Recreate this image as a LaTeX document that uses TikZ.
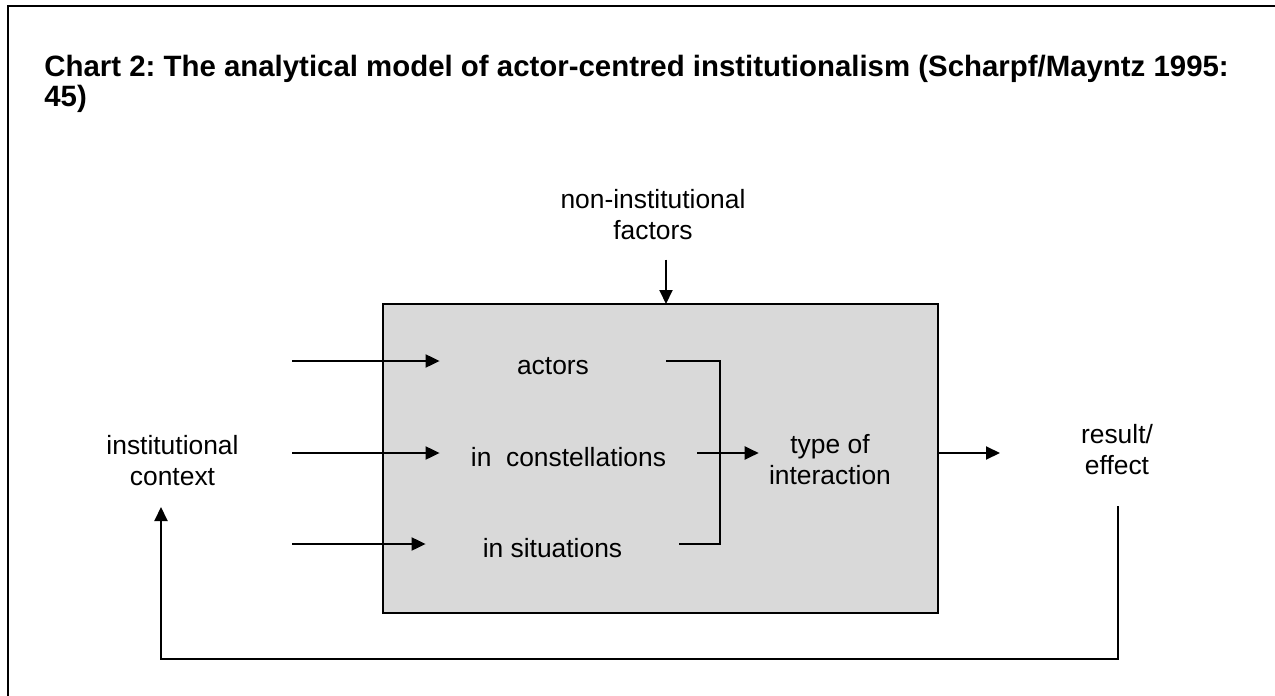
\documentclass[tikz,border=0pt]{standalone}
\usepackage{fontspec}
\setmainfont{Liberation Sans}
\usetikzlibrary{arrows.meta}
\usetikzlibrary{calc}
\definecolor{boxgrey}{RGB}{217,217,217}
\tikzstyle{TitleNode}=[align=left, inner sep=0pt, font=\fontsize{14.7}{15}\selectfont\bfseries\frenchspacing]
\tikzstyle{LabelNode}=[align=center, inner sep=0pt, font=\fontsize{13.2}{15.5}\selectfont]
\tikzstyle{ItemNode}=[inner sep=0pt, text height=13.2pt, text depth=0pt, font=\fontsize{13.2}{15.5}\selectfont]
\tikzstyle{ModelBox}=[rectangle, draw=black, fill=boxgrey, line width=1pt, minimum width=277.5pt, minimum height=154.5pt]
\tikzstyle{FlowEdge}=[->, line width=1pt]
\tikzstyle{PlainEdge}=[line width=1pt]
\tikzset{>={Triangle[length=7pt, width=6.5pt]}}

\begin{document}
\begin{tikzpicture}[x=0.5pt, y=-0.5pt]
\clip (0,0) rectangle (1275,696);
\draw[line width=1pt] (8,6) rectangle (1300,720);

\node[TitleNode, anchor=base west](title) at (44,106) {Chart 2: The analytical model of actor-centred institutionalism (Scharpf/Mayntz 1995:\\45)};

% the model box
\node[ModelBox](model) at (660.5,458.5) {};
\node[ItemNode, minimum width=113pt](actors) at (553,361) {actors};
\node[ItemNode, minimum width=128.5pt](cons) at (568.5,453) {in\ \ constellations};
\node[ItemNode, minimum width=126.5pt](sit) at (552.5,544) {in situations};
\node[LabelNode, inner xsep=5pt](type) at (830,460) {type of\\interaction};

% outside labels
\node[LabelNode](context) at (172.5,461) {institutional\\context};
\node[LabelNode](result) at (1117,450) {result/\\effect};
\node[LabelNode](factors) at (653,215) {non-institutional\\factors};

\coordinate (in1) at (292,361);
\coordinate (in2) at (292,453);
\coordinate (in3) at (292,544);
\coordinate (join) at (720,453);
\coordinate (out) at (1000,453);
\coordinate (drop) at (666,304);
\coordinate (loopR) at (1118,506);
\coordinate (loopL) at (161,507);

\draw[FlowEdge](in1) -- (actors.west);
\draw[FlowEdge](in2) -- (cons.west);
\draw[FlowEdge](in3) -- (sit.west);
\draw[PlainEdge](actors.east) -| (join) |- (sit.east);
\draw[FlowEdge](cons.east) -- (cons.east -| type.west);
\draw[FlowEdge](cons.east -| model.east) -- (out);
\draw[FlowEdge, shorten <=9.5pt](factors.south -| drop) -- (drop);
\draw[FlowEdge](loopR) -- ++(0,153) -| (loopL);
\end{tikzpicture}
\end{document}
